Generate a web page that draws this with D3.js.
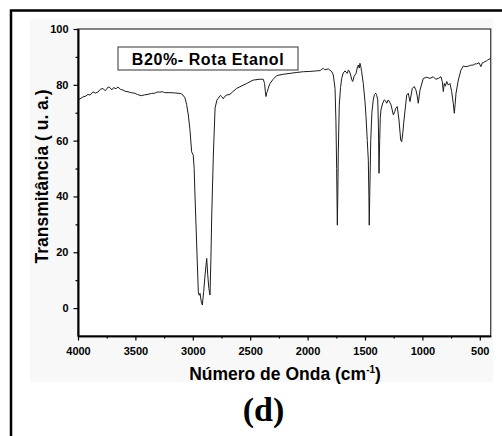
<!DOCTYPE html>
<html>
<head>
<meta charset="utf-8">
<script src="https://cdn.jsdelivr.net/npm/d3@7/dist/d3.min.js"></script>
<style>
    body { margin: 0; background: #fff; }
    svg { display: block; }
</style>
</head>
<body>
<svg id="vis" width="502" height="436"></svg>
<script>
// FTIR spectrum, B20% - Rota Etanol
var wavenumber = [4000,3960,3930,3913,3895,3869,3850,3826,3805,3782,3765,3753,3738,3724,3705,3690,3670,3652,3630,3608,
    3590,3564,3540,3506,3480,3449,3420,3390,3360,3332,3310,3288,3265,3245,3200,3160,3129,3100,3085,3068,
    3054,3039,3025,3010,2996,2988,2981,2966,2952,2944,2937,2927,2917,2905,2893,2879,2870,2860,2850,2842,
    2835,2821,2806,2790,2778,2760,2748,2735,2720,2705,2676,2650,2618,2580,2530,2473,2415,2386,2375,2368,
    2362,2356,2351,2343,2327,2300,2269,2210,2153,2100,2037,1980,1921,1890,1875,1863,1850,1820,1805,1790,
    1776,1761,1753,1747,1741,1737,1733,1724,1713,1703,1690,1674,1665,1654,1645,1637,1625,1615,1607,1595,
    1578,1565,1558,1550,1544,1535,1529,1515,1500,1491,1480,1471,1466,1463,1458,1450,1440,1428,1418,1407,
    1398,1389,1383,1378,1372,1367,1361,1345,1332,1320,1311,1297,1285,1273,1263,1253,1240,1232,1219,1204,
    1189,1180,1170,1160,1148,1137,1123,1108,1088,1071,1056,1045,1036,1021,992,962,934,905,884,861,
    838,827,818,809,800,788,774,760,745,731,722,715,707,687,664,644,620,600,580,557,
    540,527,507,490,478,465,455,440,431,420,405];

var transmittance = [74.5,75.6,76.0,76.6,76.3,77.5,77.0,77.4,78.4,78.7,77.9,78.3,79.2,79.1,78.2,79.0,78.6,79.2,78.4,78.1,
    77.7,77.5,77.2,77.0,76.5,76.1,76.4,76.6,76.9,77.0,77.4,77.4,77.5,77.2,77.2,77.1,77.0,76.8,76.3,75.3,
    73.0,69.2,64.0,56.0,54.8,50.0,40.5,22.6,5.8,4.6,5.3,2.5,1.1,6.0,12.0,17.8,12.0,7.0,4.7,18.0,
    33.3,54.8,71.7,74.5,75.2,76.2,75.8,75.0,75.9,76.3,76.6,77.6,78.7,79.5,80.5,81.7,82.0,82.0,80.5,77.5,
    75.8,77.2,77.5,78.8,80.5,82.0,83.3,83.8,84.1,84.4,84.7,84.8,85.0,85.1,85.6,85.9,85.4,85.7,85.2,84.8,
    83.5,78.7,66.8,50.0,29.7,40.0,54.8,72.8,79.0,82.3,84.2,85.0,84.5,84.1,85.3,85.0,83.5,81.8,81.2,83.0,
    84.1,86.5,87.1,86.0,87.7,86.2,84.7,80.5,74.0,68.6,60.0,53.0,40.0,29.7,42.0,60.0,70.0,74.6,76.5,77.0,
    76.2,74.6,65.0,48.3,60.0,68.0,71.0,73.5,74.6,74.2,73.4,74.6,73.8,72.8,71.0,69.2,70.5,71.6,72.2,67.4,
    60.2,59.6,63.0,67.4,72.0,76.3,77.0,74.0,78.7,79.4,78.1,76.0,73.4,78.1,82.3,82.7,82.3,82.9,82.0,82.3,
    82.9,81.2,77.6,80.5,79.5,81.2,79.9,80.5,77.6,73.4,69.8,73.0,77.0,81.7,85.3,86.7,86.5,86.7,87.0,87.1,
    87.5,87.5,87.9,86.5,87.9,88.0,88.3,88.6,88.9,89.2,89.4];

var xMajorTicks = [4000, 3500, 3000, 2500, 2000, 1500, 1000, 500];
var xMinorTicks = [3750, 3250, 2750, 2250, 1750, 1250, 750];
var yMajorTicks = [0, 20, 40, 60, 80, 100];
var yMinorTicks = [10, 30, 50, 70, 90];

var chartTitle = "B20%- Rota Etanol";
var panelLabel = "(d)";

var _vis = d3.select("#vis");

// plot area bounds (note: "top" is taken by window.top)
var plotLeft = 78, plotRight = 490.7, plotTop = 29, plotBottom = 336;

var xScale = d3.scaleLinear().domain([4000, 405]).range([plotLeft, plotRight]);
var yScale = d3.scaleLinear().domain([-10, 100]).range([plotBottom, plotTop]);

// faint grey background of the pasted figure
_vis.append("rect")
    .attr("x", 30).attr("y", 19)
    .attr("width", 463).attr("height", 363)
    .attr("fill", "#f8f8f8");

// outer frame (only top and left visible)
_vis.append("path")
    .attr("d", "M11,520 L11,10.5 L520,10.5")
    .attr("fill", "none")
    .attr("stroke", "#000")
    .attr("stroke-width", 2.5);

// plot area
_vis.append("rect")
    .attr("x", plotLeft).attr("y", plotTop)
    .attr("width", plotRight - plotLeft).attr("height", plotBottom - plotTop)
    .attr("fill", "#fff")
    .attr("stroke", "#333")
    .attr("stroke-width", 1.2);

// spectrum line
var line = d3.line()
    .x(function(d, i) { return xScale(wavenumber[i]); })
    .y(function(d) { return yScale(d); });

_vis.append("path")
    .datum(transmittance)
    .attr("d", line)
    .attr("fill", "none")
    .attr("stroke", "#1c1c1c")
    .attr("stroke-width", 1)
    .attr("stroke-linejoin", "round");

// axes
var tickFont = "bold 11px 'Liberation Sans', Arial, sans-serif";

_vis.append("g")
    .attr("transform", "translate(0," + plotBottom + ")")
    .call(d3.axisBottom(xScale).tickValues(xMajorTicks).tickFormat(d3.format("d"))
        .tickSize(4.5).tickPadding(6.5).tickSizeOuter(0));
_vis.append("g")
    .attr("transform", "translate(0," + plotBottom + ")")
    .call(d3.axisBottom(xScale).tickValues(xMinorTicks).tickSize(2.5).tickFormat("").tickSizeOuter(0));

_vis.append("g")
    .attr("transform", "translate(" + plotLeft + ",0)")
    .call(d3.axisLeft(yScale).tickValues(yMajorTicks).tickFormat(d3.format("d"))
        .tickSize(4.5).tickPadding(5).tickSizeOuter(0));
_vis.append("g")
    .attr("transform", "translate(" + plotLeft + ",0)")
    .call(d3.axisLeft(yScale).tickValues(yMinorTicks).tickSize(2.5).tickFormat("").tickSizeOuter(0));

_vis.selectAll(".domain").attr("stroke", "#000").attr("stroke-width", 1.6);
_vis.selectAll(".tick line").attr("stroke", "#000").attr("stroke-width", 1.2);
_vis.selectAll(".tick text").attr("style", "font: " + tickFont + "; fill: #000");

// title box
_vis.append("rect")
    .attr("x", 118).attr("y", 47)
    .attr("width", 180).attr("height", 23)
    .attr("fill", "#fff")
    .attr("stroke", "#333")
    .attr("stroke-width", 1);

_vis.append("text")
    .attr("x", 208).attr("y", 65)
    .attr("text-anchor", "middle")
    .attr("style", "font: bold 16px 'Liberation Sans', Arial, sans-serif; letter-spacing: 0.6px; fill: #000")
    .text(chartTitle);

// axis titles
_vis.append("text")
    .attr("transform", "translate(48,176.5) rotate(-90)")
    .attr("text-anchor", "middle")
    .attr("style", "font: bold 17.5px 'Liberation Sans', Arial, sans-serif; fill: #000")
    .text("Transmitância ( u. a.)");

var xLabel = _vis.append("text")
    .attr("x", 285).attr("y", 380)
    .attr("text-anchor", "middle")
    .attr("style", "font: bold 17.5px 'Liberation Sans', Arial, sans-serif; fill: #000");
xLabel.append("tspan").text("Número de Onda (cm");
xLabel.append("tspan").attr("dy", -7).attr("style", "font-size: 10px").text("-1");
xLabel.append("tspan").attr("dy", 7).text(")");

// panel label
_vis.append("text")
    .attr("x", 263.5).attr("y", 421)
    .attr("text-anchor", "middle")
    .attr("style", "font: bold 34px 'Liberation Serif', 'Times New Roman', serif; fill: #000")
    .text(panelLabel);
</script>
</body>
</html>
